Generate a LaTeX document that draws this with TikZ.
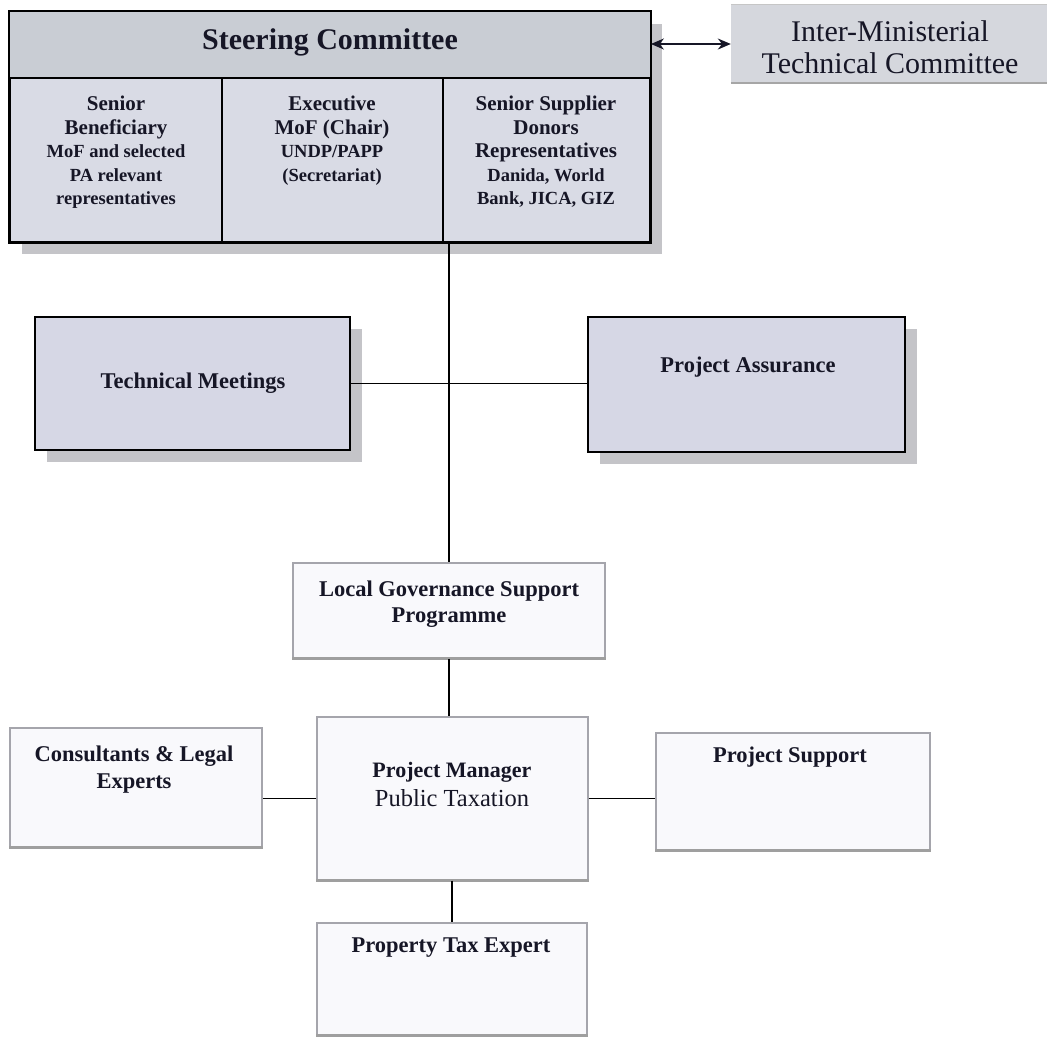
\documentclass[tikz,border=0pt]{standalone}
\usepackage{fontspec}
\setmainfont{Liberation Serif}
\usetikzlibrary{arrows.meta,shadows}
\definecolor{ink}{RGB}{22,22,38}
\definecolor{headfill}{RGB}{201,205,212}
\definecolor{colfill}{RGB}{217,219,229}
\definecolor{boxfill}{RGB}{214,215,229}
\definecolor{shadowc}{RGB}{196,196,200}
\definecolor{imfill}{RGB}{213,215,221}
\definecolor{lightedge}{RGB}{165,165,172}
\definecolor{paper}{RGB}{249,249,252}
\newcommand{\smallline}[1]{{\fontsize{18.5}{23}\selectfont #1}}
\begin{document}
\begin{tikzpicture}[x=1pt,y=-1pt,
  darkbox/.style={draw=black, line width=1.8pt, fill=boxfill, inner sep=0pt,
    drop shadow={shadow xshift=12pt, shadow yshift=-12pt, fill=shadowc, opacity=1}},
  lightbox/.style={draw=lightedge, line width=1.2pt, fill=paper, inner sep=0pt},
  lbl/.style={font=\bfseries\fontsize{22.5}{26}\selectfont, text=ink, align=center, inner sep=0pt},
  coltext/.style={font=\bfseries\fontsize{21}{23.5}\selectfont, text=ink, align=center, inner sep=0pt, anchor=north},
  conn/.style={draw=black, line width=1.8pt}
]
\useasboundingbox (0,0) rectangle (1051,1039);
\fill[white] (0,0) rectangle (1051,1039);

% ---------- Steering committee ----------
\node[darkbox, fill=colfill, minimum width=640pt, minimum height=230pt] (sc) at (330,127) {};
\fill[headfill] (sc.north west) rectangle (650,78);
\draw[line width=1.5pt] (10,78) -- (650,78);
\draw[line width=1.5pt] (222,78) -- (222,242);
\draw[line width=1.5pt] (443,78) -- (443,242);
\draw[line width=1.8pt] (sc.north west) rectangle (sc.south east);
\node[lbl, font=\bfseries\fontsize{30}{34}\selectfont] (sctitle) at (330,42) {Steering Committee};

\node[coltext] (c1) at (116,96) {Senior\\Beneficiary\\
  \smallline{MoF and selected}\\\smallline{PA relevant}\\\smallline{representatives}};
\node[coltext] (c2) at (332,96) {Executive\\MoF (Chair)\\
  \smallline{UNDP/PAPP}\\\smallline{(Secretariat)}};
\node[coltext] (c3) at (546,96) {Senior Supplier\\Donors\\Representatives\\
  \smallline{Danida, World}\\\smallline{Bank, JICA, GIZ}};

% ---------- Inter-Ministerial ----------
\node[fill=imfill, minimum width=316pt, minimum height=78pt, inner sep=0pt] (imtc) at (889,44) {};
\draw[gray!70, line width=2.5pt] (imtc.south west) -- (imtc.south east);
\draw[gray!45, line width=1pt] (imtc.north west) -- (imtc.north east);
\node[text=ink, align=center, inner sep=0pt, font=\fontsize{30}{32}\selectfont] (imtext) at (890,47) {Inter-Ministerial\\Technical Committee};

\draw[{Stealth[length=13pt,width=11pt]}-{Stealth[length=13pt,width=11pt]}, line width=1.6pt, ink]
  (imtc.west -| sc.east) -- (imtc.west);

% ---------- Middle row ----------
\node[darkbox, minimum width=315pt, minimum height=133pt] (tm) at (192.5,383.5) {};
\node[lbl] (tmtext) at (193,383) {Technical Meetings};
\node[darkbox, minimum width=317pt, minimum height=135pt] (pa) at (746.5,384.5) {};
\node[lbl] (patext) at (748,367) {Project Assurance};

% ---------- Lower boxes ----------
\node[lightbox, minimum width=312pt, minimum height=95pt] (lgsp) at (449,610.5) {};
\node[lbl] (lgsptext) at (449,604) {Local Governance Support\\Programme};

\node[lightbox, minimum width=252pt, minimum height=119pt] (cle) at (136,787.5) {};
\node[lbl, font=\bfseries\fontsize{22.5}{27}\selectfont] (cletext) at (134,770) {Consultants \& Legal\\Experts};

\node[lightbox, minimum width=271pt, minimum height=163pt] (pm) at (452.5,798.5) {};
\node[lbl, font=\bfseries\fontsize{22}{29}\selectfont] (pmtext) at (452,784)
  {Project Manager\\{\mdseries\fontsize{24.5}{29}\selectfont Public Taxation}};

\node[lightbox, minimum width=274pt, minimum height=117pt] (ps) at (793,791.5) {};
\node[lbl] (pstext) at (790,757) {Project Support};

\node[lightbox, minimum width=270pt, minimum height=112pt] (pte) at (452,979) {};
\node[lbl] (ptetext) at (451,948) {Property Tax Expert};

\foreach \b in {lgsp,cle,pm,ps,pte}{
  \draw[gray!75, line width=2.5pt] (\b.south west) -- (\b.south east);
}

% ---------- Connectors ----------
\draw[conn] (lgsp.north |- sc.south) -- (lgsp.north);
\draw[conn] (tm.east) -- (tm.east -| pa.west);
\draw[conn] (lgsp.south) -- (lgsp.south |- pm.north);
\draw[conn] (pm.west) -- (pm.west -| cle.east);
\draw[conn] (pm.east) -- (pm.east -| ps.west);
\draw[conn] (pm.south -| pte.north) -- (pte.north);
\end{tikzpicture}
\end{document}
